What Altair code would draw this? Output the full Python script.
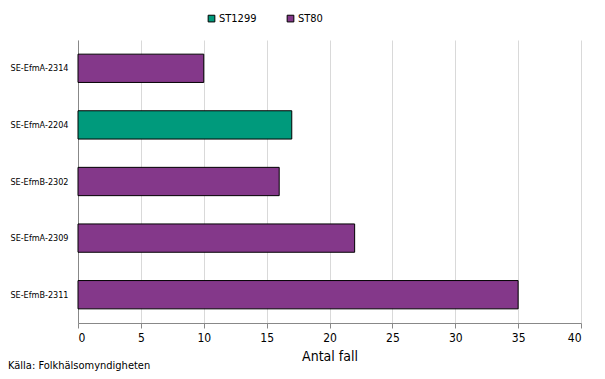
import altair as alt
import pandas as pd

categories = ["SE-EfmA-2314", "SE-EfmA-2204", "SE-EfmB-2302", "SE-EfmA-2309", "SE-EfmB-2311"]
values = [10, 17, 16, 22, 35]
types = ["ST80", "ST1299", "ST80", "ST80", "ST80"]
legend_order = ["ST1299", "ST80"]
colors = ["#009a7c", "#84388a"]
x_ticks = [0, 5, 10, 15, 20, 25, 30, 35, 40]
source_text = ["Källa:  Folkhälsomyndigheten"]

df = pd.DataFrame({"kategori": categories, "antal": values, "typ": types})
src_df = pd.DataFrame({"text": source_text})
FONT = "DejaVu Sans Condensed"

bars = alt.Chart(df).mark_bar(stroke="black", strokeWidth=1).encode(
    y=alt.Y("kategori:N", sort=categories, title=None,
            scale=alt.Scale(paddingInner=0.5, paddingOuter=0.25),
            axis=alt.Axis(ticks=False, domainColor="#888888", labelFontSize=9,
                          labelFont=FONT, labelColor="black", labelPadding=10, grid=False)),
    x=alt.X("antal:Q", title="Antal fall",
            scale=alt.Scale(domain=[0, 40], nice=False),
            axis=alt.Axis(values=x_ticks, grid=True, gridColor="#d9d9d9", domainColor="#888888",
                          tickColor="#888888", tickSize=5, labelFontSize=12, labelFont=FONT,
                          labelColor="black", titleFont=FONT, titleFontSize=14,
                          titleFontWeight="normal", titleColor="black", titlePadding=6,
                          labelPadding=4)),
    color=alt.Color("typ:N", scale=alt.Scale(domain=legend_order, range=colors),
                    legend=alt.Legend(title=None, orient="none", direction="horizontal",
                                      legendX=128, legendY=-27, symbolType="square",
                                      symbolStrokeColor="black", symbolStrokeWidth=1,
                                      symbolSize=45, labelFont=FONT, labelFontSize=11,
                                      labelColor="black", columnPadding=28, labelOffset=2)),
)

source = alt.Chart(src_df).mark_text(align="left", baseline="middle", font=FONT, fontSize=11,
                                     fontWeight="normal", color="black").encode(
    x=alt.value(-70), y=alt.value(326), text="text:N"
)

chart = alt.layer(bars, source).properties(
    width=503, height=283,
    autosize=alt.AutoSizeParams(type="none"),
    padding={"left": 70, "top": 32, "right": 16, "bottom": 54},
).configure_view(stroke=None)

chart.save("out.html", embed_options={"renderer": "svg", "actions": False})
